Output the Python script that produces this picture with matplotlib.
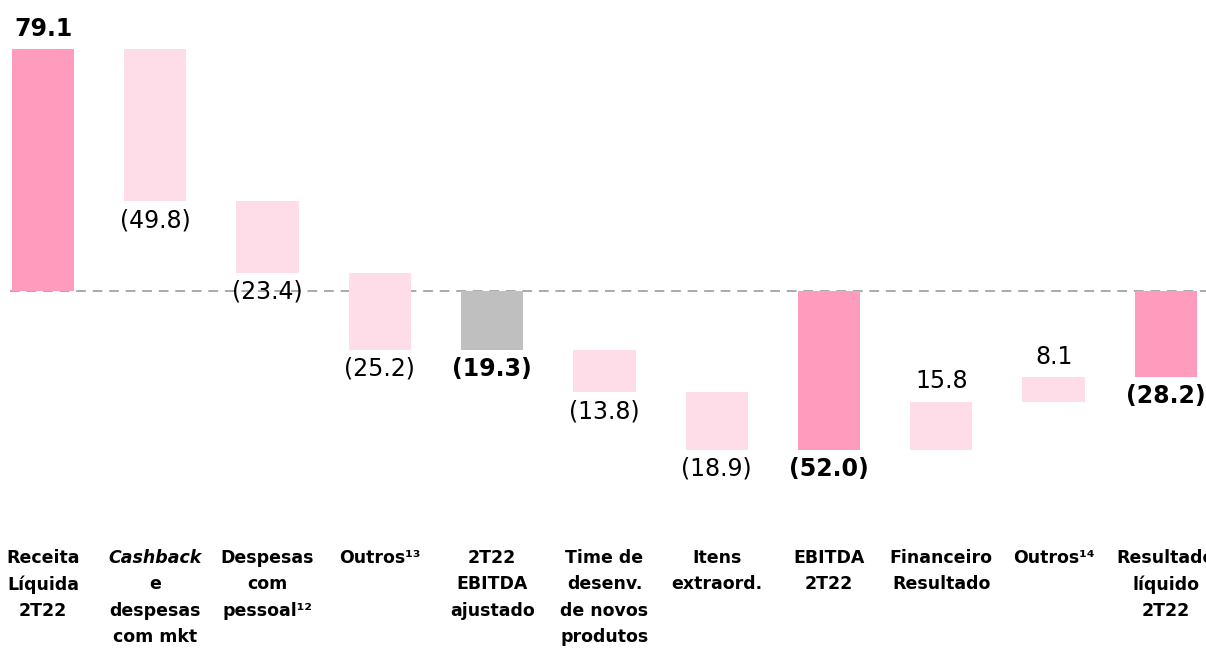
"""Waterfall: da receita líquida ao resultado líquido 2T22."""

from matplotlib import pyplot
import numpy

categories = [
    'Receita\nLíquida\n2T22',
    'Cashback\ne\ndespesas\ncom mkt',
    'Despesas\ncom\npessoal¹²',
    'Outros¹³',
    '2T22\nEBITDA\najustado',
    'Time de\ndesenv.\nde novos\nprodutos',
    'Itens\nextraord.',
    'EBITDA\n2T22',
    'Financeiro\nResultado',
    'Outros¹⁴',
    'Resultado\nlíquido\n2T22',
]
italic_lines = ['Cashback']
values = [79.1, -49.8, -23.4, -25.2, -19.3, -13.8, -18.9, -52.0, 15.8, 8.1, -28.2]
is_total = [True, False, False, False, True, False, False, True, False, False, True]
bar_colors = ['#FF9BBD', '#FFDDE8', '#FFDDE8', '#FFDDE8', '#BFBFBF', '#FFDDE8',
              '#FFDDE8', '#FF9BBD', '#FFDDE8', '#FFDDE8', '#FF9BBD']

pyplot.rcParams['font.family'] = ['DejaVu Sans']

# Bar bottoms / tops of the waterfall.
bottoms, tops = [], []
running = 0.0
for v, total in zip(values, is_total):
    if total:
        running = v
        bottoms.append(min(0.0, v))
        tops.append(max(0.0, v))
    else:
        start = running
        running += v
        bottoms.append(min(start, running))
        tops.append(max(start, running))
bottoms = numpy.array(bottoms)
tops = numpy.array(tops)
x = numpy.arange(len(values))

fig = pyplot.figure(figsize=(12.06, 6.48), dpi=100)
ax = fig.add_axes([0, 0, 1, 1])
ax.set_xlim(-0.383, 10.357)
ax.set_ylim(-116.8, 95.2)
ax.axis('off')

ax.axhline(0, xmin=0.008, xmax=1, color='#AAAAAA', lw=1.4, ls=(0, (5, 3.5)), zorder=1)
ax.bar(x, tops - bottoms, bottom=bottoms, width=0.555, color=bar_colors,
       edgecolor='none', zorder=2)

for xi, v, b, t, total in zip(x, values, bottoms, tops, is_total):
    text = f'{abs(v):.1f}'
    if v < 0:
        text = f'({text})'
    weight = 'bold' if total else 'normal'
    if v > 0:
        ax.annotate(text, (xi, t), xytext=(0, 6), textcoords='offset points',
                    ha='center', va='bottom', fontsize=17, fontweight=weight)
    else:
        ax.annotate(text, (xi, b), xytext=(0, -5), textcoords='offset points',
                    ha='center', va='top', fontsize=17, fontweight=weight)

# Category labels, one text per line so the spacing stays even.
for xi, label in zip(x, categories):
    for i, line in enumerate(label.split('\n')):
        style = 'italic' if line in italic_lines else 'normal'
        ax.text(xi, 1 - (558 + 26.3 * i) / 648, line,
                transform=ax.get_xaxis_transform(), ha='center', va='center',
                fontsize=12.5, fontweight='bold', fontstyle=style)

fig.savefig('out.png', dpi=100)
